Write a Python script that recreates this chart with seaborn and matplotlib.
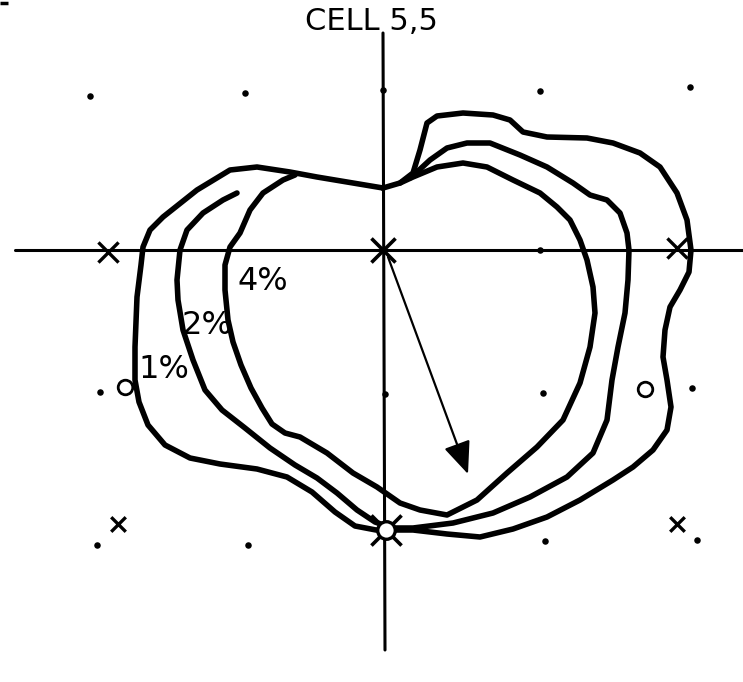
import matplotlib
matplotlib.use("Agg")
import matplotlib.pyplot as plt
import seaborn as sns

sns.set_theme(style="white")
plt.rcParams['font.family'] = ['DejaVu Sans']

# Page coordinates: x to the right, y downwards (plot units).
# Cell centre sits at (383, 250).

# 1% contour (closed)
c1_x = [383, 400, 413, 420, 427, 437, 463, 493, 510, 523, 547, 587, 613, 640, 660,
        677, 687, 691, 689, 680, 670, 665, 663, 667, 671, 667, 653, 633, 613, 580,
        547, 513, 480, 447, 413, 390, 376, 355, 335, 312, 287, 257, 220, 190, 165,
        148, 139, 135, 135, 137, 141, 143, 150, 163, 197, 230, 257, 290, 317, 347, 383]
c1_y = [188, 183, 173, 150, 123, 116, 113, 115, 120, 132, 137, 138, 143, 153, 167,
        193, 220, 250, 272, 290, 307, 330, 357, 380, 407, 430, 450, 467, 480, 500,
        517, 529, 537, 534, 530, 530, 530, 526, 512, 492, 477, 469, 464, 458, 445,
        425, 402, 380, 347, 297, 265, 247, 230, 217, 190, 170, 167, 172, 177, 182, 188]

# 2% contour (open at the upper left)
c2_x = [237, 223, 203, 187, 180, 177, 178, 183, 193, 205, 222, 245, 270, 295, 317,
        337, 357, 375, 392, 413, 453, 493, 530, 567, 593, 607, 612, 618, 625, 628,
        629, 627, 620, 607, 590, 573, 547, 520, 490, 467, 447, 430, 417, 410]
c2_y = [193, 200, 213, 230, 250, 280, 300, 330, 360, 390, 410, 428, 448, 465, 478,
        493, 510, 522, 528, 528, 523, 513, 497, 477, 453, 420, 380, 347, 313, 280,
        250, 233, 213, 200, 195, 183, 167, 155, 143, 143, 148, 160, 172, 178]

# 4% contour (joins the 1% line along the top)
c4_x = [295, 283, 263, 250, 240, 230, 225, 225, 228, 233, 241, 251, 262, 272, 285,
        300, 327, 353, 377, 400, 420, 447, 477, 507, 537, 563, 580, 590, 595, 593,
        587, 580, 570, 557, 540, 513, 487, 463, 437, 413, 400]
c4_y = [175, 180, 193, 210, 233, 247, 265, 290, 320, 342, 365, 388, 408, 424, 433,
        437, 453, 473, 487, 503, 510, 515, 500, 473, 447, 420, 383, 347, 313, 287,
        260, 240, 220, 207, 193, 180, 167, 163, 167, 177, 183]

contours = [(c1_x, c1_y), (c2_x, c2_y), (c4_x, c4_y)]
contour_labels = ["1%", "2%", "4%"]
label_x = [164, 207, 263]
label_y = [370, 325, 282]

# grid points
dot_x = [90, 245, 383, 540, 690, 540, 100, 385, 543, 692, 97, 248, 545, 697]
dot_y = [96, 93, 90, 91, 87, 250, 392, 394, 393, 388, 545, 545, 541, 540]
ring_x = [125, 645]
ring_y = [387, 389]
cross_x = [108, 677, 118, 677]
cross_y = [252, 248, 524, 524]
cross_s = [210, 210, 110, 110]

fig = plt.figure(figsize=(7.43, 6.82), dpi=100)
ax = fig.add_axes([0, 0, 1, 1])
ax.set_xlim(0, 743)
ax.set_ylim(682, 0)
ax.axis("off")

# reference axes through the cell centre
sns.lineplot(x=[15, 743], y=[250, 250], sort=False, estimator=None,
             color="black", lw=2.2, ax=ax)
sns.lineplot(x=[383, 385], y=[33, 650], sort=False, estimator=None,
             color="black", lw=2.2, ax=ax)
ax.plot([0, 8], [2.5, 2.5], color="black", lw=2.5, solid_capstyle="butt")

for cx, cy in contours:
    sns.lineplot(x=cx, y=cy, sort=False, estimator=None, color="black",
                 lw=4.0, ax=ax, solid_joinstyle="round", solid_capstyle="round")

sns.scatterplot(x=dot_x, y=dot_y, s=22, color="black", linewidth=0, ax=ax, zorder=5)
sns.scatterplot(x=ring_x, y=ring_y, s=110, marker="o", facecolor="white",
                edgecolor="black", linewidth=2.0, ax=ax, zorder=5)
for x, y, s in zip(cross_x, cross_y, cross_s):
    sns.scatterplot(x=[x], y=[y], s=s, marker="x", color="black",
                    linewidth=2.4, ax=ax, zorder=5)

# centre and lower star points
sns.scatterplot(x=[383], y=[250], s=300, marker="x", color="black",
                linewidth=2.6, ax=ax, zorder=6)
sns.scatterplot(x=[386], y=[530], s=470, marker="x", color="black",
                linewidth=2.6, ax=ax, zorder=6)
sns.scatterplot(x=[386], y=[530], s=160, marker="o", facecolor="white",
                edgecolor="black", linewidth=2.4, ax=ax, zorder=7)

# displacement vector
ax.annotate("", xy=(468, 474), xytext=(388, 257),
            arrowprops=dict(arrowstyle="-|>,head_length=1.0,head_width=0.42",
                            mutation_scale=20, lw=1.6, color="black",
                            shrinkA=0, shrinkB=0), zorder=6)

for lab, lx, ly in zip(contour_labels, label_x, label_y):
    ax.text(lx, ly, lab, ha="center", va="center", fontsize=23, color="black")

ax.text(371, 22, "CELL 5,5", ha="center", va="center", fontsize=22, color="black")

fig.savefig("out.png", dpi=100, facecolor="white")
